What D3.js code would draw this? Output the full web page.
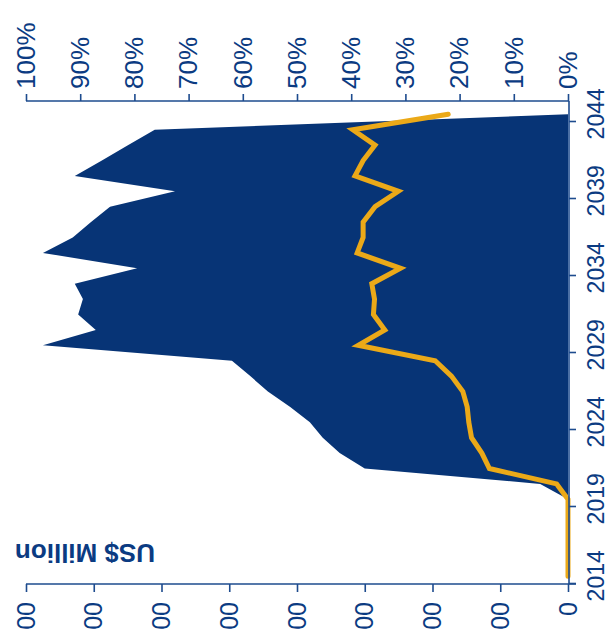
<!DOCTYPE html>
<html>
<head>
<meta charset="utf-8">
<script src="https://cdn.jsdelivr.net/npm/d3@7"></script>
<style>
  body { margin: 0; background: #fff; }
  svg { display: block; }
  text { font-family: "Liberation Sans", Arial, sans-serif; }
</style>
</head>
<body>
<svg id="chart" width="608" height="629"></svg>
<script>
// Annual figures, 2014–2044
const years = d3.range(2014, 2045);
const investment = [0, 0, 0, 0, 0, 0,
  41, 300, 337, 362, 381, 410, 443, 469, 496,
  775, 697, 723, 716, 728,
  636, 775, 731, 704, 676,
  580, 728, 688, 649, 610,
  0];
const sharePct = [0, 0, 0, 0, 0, 0,
  2.1, 14.5, 15.9, 17.8, 18.3, 18.6, 19.4, 21.5, 24.5,
  38.7, 33.8, 35.9, 35.7, 36.2,
  30.9, 38.9, 37.8, 37.8, 35.6,
  31.3, 39.3, 37.8, 35.6, 39.7,
  22.1];
const valueTicks = [0, 100, 200, 300, 400, 500, 600, 700, 800];
const pctTicks = [0, 10, 20, 30, 40, 50, 60, 70, 80, 90, 100];
const yearLabels = [2014, 2019, 2024, 2029, 2034, 2039, 2044];
const yearTicks = yearLabels.map(y => y - 0.5);
const valueTitle = "US$ Million";

const NAVY = "#073476";
const AXIS = "#1d4b8e";
const INK = "#0b3b82";
const GOLD = "#eba918";

const W = 608, H = 629;
const svg = d3.select("#chart");

// The chart is laid out in a frame turned a quarter-turn anticlockwise:
// frame (u, v) -> page (v, H - u).
const g = svg.append("g").attr("transform", `translate(0,${H}) rotate(-90)`);

const x = d3.scaleLinear().domain([2013.5, 2044.5]).range([45, 522.4]);
const yVal = d3.scaleLinear().domain([0, 800]).range([568, 26]);
const yPct = d3.scaleLinear().domain([0, 100]).range([568, 26]);

const rows = years.map((yr, i) => ({ year: yr, v: investment[i], p: sharePct[i] }));

// Investment area
g.append("path")
  .datum(rows)
  .attr("fill", NAVY)
  .attr("d", d3.area()
    .x(d => x(d.year))
    .y0(yVal(0))
    .y1(d => yVal(d.v)));

// Share line on the percentage axis
g.append("path")
  .datum(rows)
  .attr("fill", "none")
  .attr("stroke", GOLD)
  .attr("stroke-width", 5)
  .attr("stroke-linejoin", "miter")
  .attr("stroke-linecap", "round")
  .attr("d", d3.line()
    .x(d => x(d.year))
    .y(d => yPct(d.p)));

function styleAxis(sel, size) {
  sel.selectAll(".domain, .tick line").attr("stroke", AXIS).attr("stroke-width", 1.6);
  sel.selectAll("text").attr("fill", INK).attr("font-size", size)
    .attr("font-family", '"Liberation Sans", Arial, sans-serif');
}

// Year axis: ticks between categories, labels on the categories
const xAxisG = g.append("g").attr("transform", "translate(0,569)")
  .call(d3.axisBottom(x).tickValues(yearTicks).tickFormat("").tickSize(7).tickSizeOuter(0));
xAxisG.select(".domain").attr("d", "M45,0H528");
xAxisG.append("g").attr("class", "tick").attr("transform", `translate(${x(2013.5)},0)`)
  .append("line").attr("y2", 7);
styleAxis(xAxisG, 24);

const xLabG = g.append("g").attr("transform", "translate(0,569)")
  .call(d3.axisBottom(x).tickValues(yearLabels).tickFormat(d3.format("d")).tickSize(0));
xLabG.select(".domain").remove();
styleAxis(xLabG, 23);
xLabG.selectAll("text").attr("dy", "0").attr("y", 34.5);

// Value axis
const yAxisG = g.append("g").attr("transform", "translate(45,0)")
  .call(d3.axisLeft(yVal).tickValues(valueTicks).tickFormat(d3.format(",")).tickSize(8).tickPadding(10).tickSizeOuter(0));
yAxisG.select(".domain").attr("d", "M0,26V569");
styleAxis(yAxisG, 25);

// Percentage axis
const pAxisG = g.append("g").attr("transform", "translate(528,0)")
  .call(d3.axisRight(yPct).tickValues(pctTicks).tickFormat(d => d + "%").tickSize(7).tickPadding(5).tickSizeOuter(0));
pAxisG.select(".domain").attr("d", "M0,26V569");
styleAxis(pAxisG, 26);

// Value axis title
g.append("text")
  .attr("transform", "translate(85,85) rotate(-90)")
  .attr("text-anchor", "middle")
  .attr("font-size", 26)
  .attr("font-weight", "bold")
  .attr("fill", INK)
  .text(valueTitle);
</script>
</body>
</html>
